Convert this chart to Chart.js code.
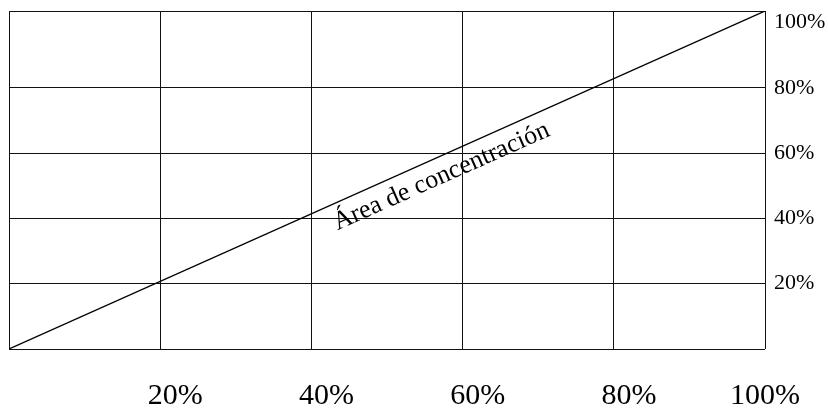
<!DOCTYPE html>
<html>
<head>
<meta charset="utf-8">
<script src="https://cdn.jsdelivr.net/npm/chart.js@4/dist/chart.umd.min.js"></script>
<style>
  html, body { margin: 0; padding: 0; background: #fff; }
  #wrap { width: 828px; height: 409px; }
</style>
</head>
<body>
<div id="wrap"><canvas id="conc"></canvas></div>
<script>
// grid values (percent)
const xGrid = [0, 20, 40, 60, 80, 100];
const yGrid = [0, 20, 40, 60, 80, 100];
const yTop = 103.5; // top border sits a bit above 100%

// tick labels
const xLabels = ['20%', '40%', '60%', '80%', '100%'];
const xLabelAt = [22, 42, 62, 82, 100];
const yLabels = ['20%', '40%', '60%', '80%', '100%'];

// diagonal line
const diagX = [0, 100];
const diagY = [0, yTop];

const caption = 'Área de concentración';
const captionAt = { x: 57.2, y: 52.8 };

const serif = 'Liberation Serif, Times New Roman, serif';

const captionPlugin = {
  id: 'caption',
  afterDatasetsDraw(chart) {
    const { ctx, scales } = chart;
    const px = scales.x.getPixelForValue(captionAt.x);
    const py = scales.y.getPixelForValue(captionAt.y);
    ctx.save();
    ctx.translate(px, py);
    ctx.rotate(-24 * Math.PI / 180);
    ctx.font = '26px ' + serif;
    ctx.fillStyle = '#000';
    ctx.textAlign = 'center';
    ctx.textBaseline = 'middle';
    ctx.fillText(caption, 0, 0);
    ctx.restore();
  }
};

new Chart('conc', {
  type: 'scatter',
  data: {
    datasets: [{
      data: diagX.map((x, i) => ({ x: x, y: diagY[i] })),
      showLine: true,
      borderColor: '#000',
      borderWidth: 1.3,
      pointRadius: 0,
      fill: false
    }]
  },
  options: {
    responsive: true,
    maintainAspectRatio: false,
    animation: false,
    layout: { padding: { left: 9, top: 11, right: 0, bottom: 0 } },
    plugins: {
      legend: { display: false },
      tooltip: { enabled: false }
    },
    scales: {
      x: {
        type: 'linear',
        position: 'bottom',
        min: 0, max: 100,
        weight: 2,
        afterBuildTicks: s => { s.ticks = xGrid.map(v => ({ value: v })); },
        afterFit: s => { s.height = 0; s.paddingLeft = 0; s.paddingRight = 0; },
        ticks: { display: false },
        grid: { color: '#111', lineWidth: 1, drawTicks: false },
        border: { display: false }
      },
      xl: {
        type: 'linear',
        position: 'bottom',
        min: 0, max: 100,
        weight: 1,
        afterBuildTicks: s => { s.ticks = xLabelAt.map(v => ({ value: v })); },
        afterFit: s => { s.height = 60; s.paddingLeft = 0; s.paddingRight = 0; },
        ticks: {
          autoSkip: false,
          maxRotation: 0,
          padding: 29,
          color: '#000',
          font: { family: serif, size: 30 },
          callback: (v, i) => xLabels[i]
        },
        grid: { display: false, drawTicks: false },
        border: { display: false }
      },
      y: {
        type: 'linear',
        position: 'right',
        min: 0, max: yTop,
        afterBuildTicks: s => {
          s.ticks = yGrid.concat([yTop]).map(v => ({ value: v }));
        },
        afterFit: s => { s.width = 63; s.paddingTop = 0; s.paddingBottom = 0; },
        ticks: {
          autoSkip: false,
          padding: 9,
          color: '#000',
          font: { family: serif, size: 22 },
          callback: v => {
            const i = yGrid.indexOf(v);
            return i > 0 ? yLabels[i - 1] : '';
          }
        },
        grid: {
          drawTicks: false,
          lineWidth: 1,
          color: c => (c.tick && c.tick.value === 100) ? 'rgba(0,0,0,0)' : '#111'
        },
        border: { display: false }
      }
    }
  },
  plugins: [captionPlugin]
});
</script>
</body>
</html>
